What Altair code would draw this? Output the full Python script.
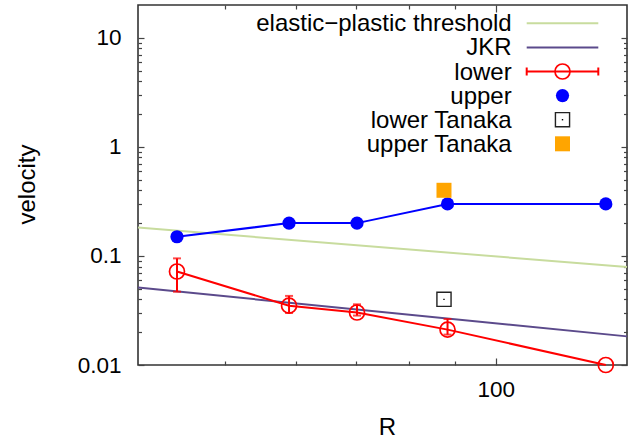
import altair as alt
import pandas as pd

# ---------------- data ----------------
R_pts = [44.2, 58.9, 70.1, 88.4, 132.6]
upper_v = [0.15, 0.20, 0.20, 0.30, 0.30]
lower_v = [0.072, 0.035, 0.0303, 0.0211, 0.0100]
err_R = [44.2, 58.9, 70.1, 88.4]
err_lo = [0.047, 0.030, 0.0284, 0.019]
err_hi = [0.095, 0.043, 0.036, 0.0264]
tanaka_R = [87.6]
tanaka_lower = [0.040]
tanaka_upper = [0.40]
line_R = [40, 140]
threshold_v = [0.182, 0.0792]
jkr_v = [0.0513, 0.0183]

x_tick_values = [50, 60, 70, 80, 90, 100]
x_label_values = [100]
y_tick_values = [0.01, 0.02, 0.03, 0.04, 0.05, 0.06, 0.07, 0.08, 0.09,
                 0.1, 0.2, 0.3, 0.4, 0.5, 0.6, 0.7, 0.8, 0.9,
                 1, 2, 3, 4, 5, 6, 7, 8, 9, 10]
y_label_values = [0.01, 0.1, 1, 10]
legend_labels = ["elastic\u2212plastic threshold", "JKR", "lower", "upper",
                 "lower Tanaka", "upper Tanaka"]

# ---------------- style ----------------
W, H = 489, 360
FONT = "Liberation Sans"
C_THR = "#c8dc9e"
C_JKR = "#5b4a8b"
C_RED = "#ff0000"
C_BLUE = "#0000ff"
C_ORANGE = "#ffa500"
TICK_C = "#444444"
LABEL_FS = 22.5
TEXT_FS = 24

xs = alt.Scale(type="log", domain=[40, 140], nice=False)
ys = alt.Scale(type="log", domain=[0.01, 20], nice=False)

x_major = {"condition": {"test": "datum.value == 100", "value": 7}, "value": 4}
y_major = {"condition": {"test": "abs(log(datum.value)/LN10 - round(log(datum.value)/LN10)) < 0.001",
                         "value": 6}, "value": 3.5}

ax_x_labels = alt.Axis(orient="bottom", values=x_label_values, ticks=False, domain=False,
                       grid=False, labelFont=FONT, labelFontSize=LABEL_FS, labelColor="#000",
                       labelPadding=13, title="R", titleFont=FONT, titleFontSize=TEXT_FS,
                       titleFontWeight="normal", titleColor="#000", titleBaseline="alphabetic",
                       titleX=249, titleY=69, format="~g")
ax_x_bottom_ticks = alt.Axis(orient="top", offset=-H, values=x_tick_values, labels=False,
                             domain=False, grid=False, title=None, tickSize=x_major,
                             tickColor=TICK_C, tickWidth=1.2)
ax_x_top_ticks = alt.Axis(orient="bottom", offset=-H, values=x_tick_values, labels=False,
                          domain=False, grid=False, title=None, tickSize=x_major,
                          tickColor=TICK_C, tickWidth=1.2)

ax_y_labels = alt.Axis(orient="left", values=y_label_values, ticks=False, domain=False,
                       grid=False, labelFont=FONT, labelFontSize=LABEL_FS, labelColor="#000",
                       labelPadding=17, format="~g", title="velocity", titleFont=FONT,
                       titleFontSize=TEXT_FS, titleFontWeight="normal", titleColor="#000",
                       titleAngle=-90, titleBaseline="alphabetic", titleAlign="center",
                       titleX=-104, titleY=179)
ax_y_left_ticks = alt.Axis(orient="right", offset=-W, values=y_tick_values, labels=False,
                           domain=False, grid=False, title=None, tickSize=y_major,
                           tickColor=TICK_C, tickWidth=1.2)
ax_y_right_ticks = alt.Axis(orient="left", offset=-W, values=y_tick_values, labels=False,
                            domain=False, grid=False, title=None, tickSize=y_major,
                            tickColor=TICK_C, tickWidth=1.2)

lines_df = pd.DataFrame({"R": line_R, "thr": threshold_v, "jkr": jkr_v})
pts_df = pd.DataFrame({"R": R_pts, "upper": upper_v, "lower": lower_v})
err_df = pd.DataFrame({"R": err_R, "lo": err_lo, "hi": err_hi})
tan_df = pd.DataFrame({"R": tanaka_R, "lo": tanaka_lower, "up": tanaka_upper})

RED_PT = dict(shape="circle", filled=False, color=C_RED, strokeWidth=1.7, size=225, opacity=1)
BLUE_PT = dict(shape="circle", filled=True, color=C_BLUE, size=175, opacity=1)
TLO_PT = dict(shape="square", filled=False, color="#222", strokeWidth=1.4, size=200, opacity=1)
TDOT_PT = dict(shape="square", filled=True, color="#000", size=2, opacity=1)
TUP_PT = dict(shape="square", filled=True, color=C_ORANGE, size=225, opacity=1)

thr = alt.Chart(lines_df).mark_line(color=C_THR, strokeWidth=2).encode(
    x=alt.X("R:Q", scale=xs, axis=ax_x_labels),
    y=alt.Y("thr:Q", scale=ys, axis=ax_y_labels))
jkr = alt.Chart(lines_df).mark_line(color=C_JKR, strokeWidth=2).encode(
    x=alt.X("R:Q", scale=xs, axis=ax_x_bottom_ticks),
    y=alt.Y("jkr:Q", scale=ys, axis=ax_y_left_ticks))
lower_line = alt.Chart(pts_df).mark_line(color=C_RED, strokeWidth=2).encode(
    x=alt.X("R:Q", scale=xs, axis=ax_x_top_ticks),
    y=alt.Y("lower:Q", scale=ys, axis=ax_y_right_ticks))
err_rule = alt.Chart(err_df).mark_rule(color=C_RED, strokeWidth=2).encode(
    x=alt.X("R:Q", scale=xs, axis=None),
    y=alt.Y("lo:Q", scale=ys, axis=None), y2="hi:Q")
cap_lo = alt.Chart(err_df).mark_tick(color=C_RED, orient="horizontal", size=8, thickness=2).encode(
    x=alt.X("R:Q", scale=xs, axis=None), y=alt.Y("lo:Q", scale=ys, axis=None))
cap_hi = alt.Chart(err_df).mark_tick(color=C_RED, orient="horizontal", size=8, thickness=2).encode(
    x=alt.X("R:Q", scale=xs, axis=None), y=alt.Y("hi:Q", scale=ys, axis=None))
lower_pts = alt.Chart(pts_df).mark_point(**RED_PT).encode(
    x=alt.X("R:Q", scale=xs, axis=None), y=alt.Y("lower:Q", scale=ys, axis=None))
upper_line = alt.Chart(pts_df).mark_line(color=C_BLUE, strokeWidth=2).encode(
    x=alt.X("R:Q", scale=xs, axis=None), y=alt.Y("upper:Q", scale=ys, axis=None))
upper_pts = alt.Chart(pts_df).mark_point(**BLUE_PT).encode(
    x=alt.X("R:Q", scale=xs, axis=None), y=alt.Y("upper:Q", scale=ys, axis=None))
tan_lo = alt.Chart(tan_df).mark_point(**TLO_PT).encode(
    x=alt.X("R:Q", scale=xs, axis=None), y=alt.Y("lo:Q", scale=ys, axis=None))
tan_lo_dot = alt.Chart(tan_df).mark_point(**TDOT_PT).encode(
    x=alt.X("R:Q", scale=xs, axis=None), y=alt.Y("lo:Q", scale=ys, axis=None))
tan_up = alt.Chart(tan_df).mark_point(**TUP_PT).encode(
    x=alt.X("R:Q", scale=xs, axis=None), y=alt.Y("up:Q", scale=ys, axis=None))

# ---------------- key (gnuplot style, inside the plot) ----------------
KX_TEXT = 373.7
KX0, KX1 = 388.7, 460.3
KXC = (KX0 + KX1) / 2
KY0, KDY = 18.3, 24.1
key_layers = []
for i, lab in enumerate(legend_labels):
    ky = KY0 + KDY * i
    d = pd.DataFrame({"label": [lab]})
    key_layers.append(alt.Chart(d).mark_text(align="right", baseline="middle", font=FONT,
                                             fontSize=TEXT_FS, color="#000").encode(
        x=alt.value(KX_TEXT), y=alt.value(ky + 1), text="label:N"))
    if i == 0:
        key_layers.append(alt.Chart(d).mark_rule(color=C_THR, strokeWidth=2).encode(
            x=alt.value(KX0), x2=alt.value(KX1), y=alt.value(ky)))
    elif i == 1:
        key_layers.append(alt.Chart(d).mark_rule(color=C_JKR, strokeWidth=2).encode(
            x=alt.value(KX0), x2=alt.value(KX1), y=alt.value(ky)))
    elif i == 2:
        key_layers.append(alt.Chart(d).mark_rule(color=C_RED, strokeWidth=2).encode(
            x=alt.value(KX0), x2=alt.value(KX1), y=alt.value(ky)))
        for kx in (KX0, KX1):
            key_layers.append(alt.Chart(d).mark_rule(color=C_RED, strokeWidth=2).encode(
                x=alt.value(kx), y=alt.value(ky - 4), y2=alt.value(ky + 4)))
        key_layers.append(alt.Chart(d).mark_point(**RED_PT).encode(
            x=alt.value(KXC), y=alt.value(ky)))
    elif i == 3:
        key_layers.append(alt.Chart(d).mark_point(**BLUE_PT).encode(
            x=alt.value(KXC), y=alt.value(ky)))
    elif i == 4:
        key_layers.append(alt.Chart(d).mark_point(**TLO_PT).encode(
            x=alt.value(KXC), y=alt.value(ky)))
        key_layers.append(alt.Chart(d).mark_point(**TDOT_PT).encode(
            x=alt.value(KXC), y=alt.value(ky)))
    else:
        key_layers.append(alt.Chart(d).mark_point(**TUP_PT).encode(
            x=alt.value(KXC), y=alt.value(ky)))

chart = alt.layer(
    thr, jkr, lower_line, err_rule, cap_lo, cap_hi, lower_pts,
    upper_line, upper_pts, tan_lo, tan_lo_dot, tan_up, *key_layers
).resolve_axis(
    x="independent", y="independent"
).properties(
    width=W, height=H,
    autosize=alt.AutoSizeParams(type="none"),
    padding={"left": 138, "top": 5, "right": 642 - 138 - W, "bottom": 440 - 5 - H},
    background="white",
).configure_view(
    stroke="#333333", strokeWidth=1.6
)

chart.save("out.html", embed_options={"renderer": "svg", "actions": False})
